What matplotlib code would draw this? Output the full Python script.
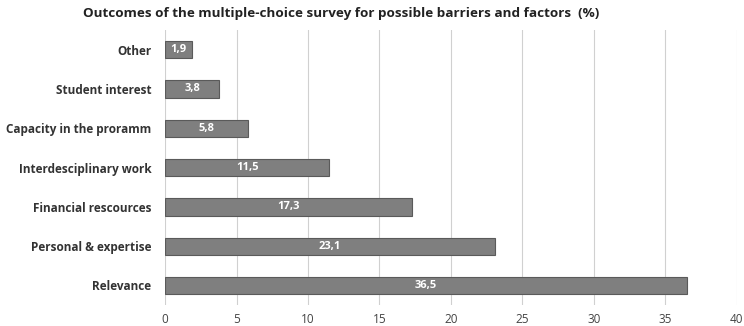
import matplotlib.pyplot as plt

categories = ['Other', 'Student interest', 'Capacity in the proramm', 'Interdesciplinary work',
              'Financial rescources', 'Personal & expertise', 'Relevance']
values = [1.9, 3.8, 5.8, 11.5, 17.3, 23.1, 36.5]
xticks = [0, 5, 10, 15, 20, 25, 30, 35, 40]

plt.rcParams['font.family'] = ['Open Sans', 'DejaVu Sans']

fig = plt.figure(figsize=(7.44, 3.26), dpi=100)
ax = fig.add_axes([0.222, 0.064, 0.768, 0.844])

ypos = list(range(len(categories)))[::-1]  # Other on top
bars = ax.barh(ypos, values, height=0.44, color='#7f7f7f', edgecolor='#5a5a5a', linewidth=0.8, zorder=3)

for b, v in zip(bars, values):
    ax.text(b.get_width() / 2, b.get_y() + b.get_height() / 2, f'{v:.1f}'.replace('.', ','),
            ha='center', va='center', color='white', fontsize=8, fontweight='bold', zorder=4)

ax.set_yticks(ypos)
ax.set_yticklabels(categories, fontsize=8.5, fontweight='bold', color='#333333')
ax.set_xticks(xticks)
ax.set_xticklabels([str(t) for t in xticks], fontsize=8.5, color='#444444')
ax.set_xlim(0, 40)
ax.set_ylim(-0.5, len(categories) - 0.5)

ax.grid(axis='x', color='#d0d0d0', linewidth=0.8, zorder=0)
for s in ax.spines.values():
    s.set_visible(False)
ax.tick_params(length=0, pad=6)
ax.tick_params(axis='y', pad=10)

fig.text(0.459, 0.96, 'Outcomes of the multiple-choice survey for possible barriers and factors  (%)',
         ha='center', va='center', fontsize=9.7, fontweight='bold', color='#222222')

fig.savefig('out.png', dpi=100)
